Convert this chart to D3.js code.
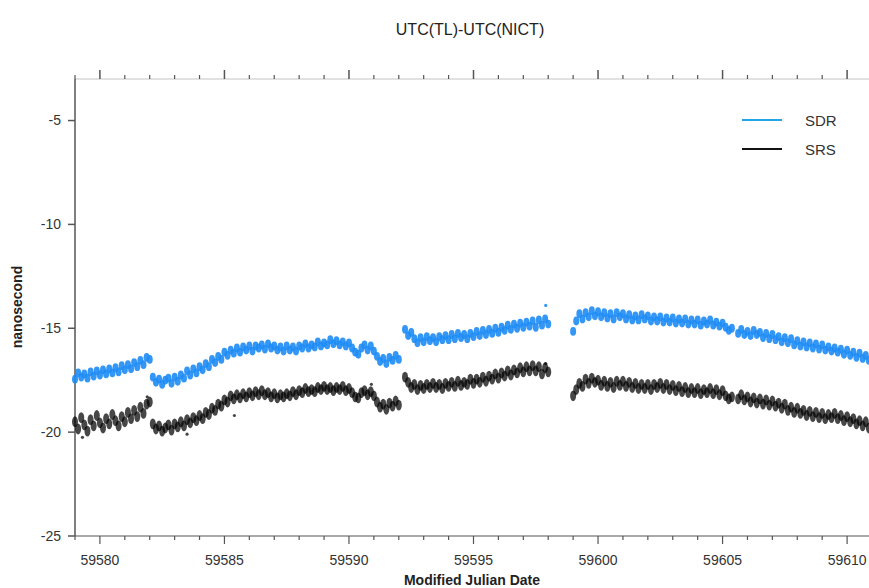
<!DOCTYPE html>
<html>
<head>
<meta charset="utf-8">
<script src="https://cdn.jsdelivr.net/npm/d3@7"></script>
<style>
  body { margin: 0; background: #fff; }
  svg { font-family: "Liberation Sans", Arial, sans-serif; }
</style>
</head>
<body>
<div id="chart"></div>
<script>
// sampling: every segment starts at segStart and runs every 0.125 day
const segStart = [59579.0, 59582.125, 59591.125, 59592.25, 59599.0, 59605.625];
const step = 0.125;

const sdrSeg = [
  [-17.45,-17.15,-17.35,-17.20,-17.40,-17.10,-17.30,-17.05,-17.25,-17.00,-17.20,-16.95,-17.15,-16.90,-17.10,-16.80,-17.00,-16.75,-16.95,-16.65,-16.85,-16.55,-16.75,-16.40,-16.50],
  [-17.35,-17.60,-17.45,-17.70,-17.50,-17.40,-17.65,-17.35,-17.55,-17.25,-17.40,-17.05,-17.25,-16.95,-17.15,-16.85,-17.00,-16.70,-16.85,-16.50,-16.65,-16.35,-16.50,-16.15,-16.30,-16.05,-16.20,-15.95,-16.15,-15.90,-16.05,-15.85,-16.10,-15.85,-15.95,-15.80,-16.00,-15.75,-15.95,-15.85,-16.05,-15.90,-16.10,-15.85,-16.05,-15.90,-16.10,-15.85,-15.95,-15.75,-15.95,-15.80,-15.90,-15.65,-15.85,-15.70,-15.80,-15.55,-15.75,-15.60,-15.80,-15.65,-15.85,-15.70,-15.95,-16.15,-16.25,-15.95,-15.80,-16.05,-15.85,-16.10],
  [-16.35,-16.60,-16.45,-16.70,-16.40,-16.55,-16.30,-16.50],
  [-15.05,-15.35,-15.20,-15.50,-15.70,-15.45,-15.65,-15.40,-15.60,-15.45,-15.65,-15.40,-15.55,-15.35,-15.55,-15.30,-15.50,-15.25,-15.45,-15.30,-15.50,-15.25,-15.40,-15.15,-15.35,-15.10,-15.30,-15.05,-15.25,-15.00,-15.20,-14.95,-15.10,-14.85,-15.05,-14.80,-15.00,-14.75,-14.95,-14.70,-14.90,-14.65,-14.95,-14.60,-14.85,-14.55,-14.80],
  [-15.15,-14.65,-14.30,-14.55,-14.25,-14.45,-14.15,-14.40,-14.20,-14.45,-14.25,-14.50,-14.30,-14.55,-14.25,-14.45,-14.30,-14.55,-14.35,-14.60,-14.40,-14.60,-14.35,-14.55,-14.40,-14.65,-14.45,-14.65,-14.45,-14.70,-14.50,-14.70,-14.50,-14.75,-14.55,-14.75,-14.55,-14.80,-14.60,-14.80,-14.60,-14.85,-14.65,-14.80,-14.60,-14.85,-14.70,-14.90,-14.75,-14.95,-15.10,-15.00],
  [-15.25,-15.05,-15.30,-15.15,-15.35,-15.10,-15.30,-15.20,-15.45,-15.25,-15.50,-15.30,-15.55,-15.40,-15.65,-15.45,-15.70,-15.50,-15.80,-15.60,-15.85,-15.65,-15.90,-15.70,-15.95,-15.75,-16.00,-15.80,-16.05,-15.90,-16.10,-15.95,-16.15,-16.00,-16.25,-16.05,-16.30,-16.15,-16.40,-16.20,-16.45,-16.30,-16.55,-16.40]
];

const srsSeg = [
  [-19.50,-19.85,-19.30,-19.65,-19.95,-19.40,-19.70,-19.20,-19.55,-19.80,-19.35,-19.60,-19.15,-19.45,-19.70,-19.25,-19.50,-19.05,-19.35,-18.95,-19.25,-18.80,-19.10,-18.65,-18.55],
  [-19.60,-19.85,-19.70,-19.95,-19.80,-19.65,-19.90,-19.60,-19.75,-19.50,-19.70,-19.40,-19.55,-19.30,-19.45,-19.20,-19.35,-19.05,-19.15,-18.85,-18.95,-18.65,-18.75,-18.45,-18.55,-18.25,-18.40,-18.20,-18.35,-18.15,-18.30,-18.10,-18.25,-18.05,-18.20,-18.00,-18.20,-18.10,-18.30,-18.15,-18.35,-18.20,-18.30,-18.15,-18.25,-18.05,-18.20,-18.00,-18.10,-17.90,-18.05,-17.95,-18.05,-17.85,-17.95,-17.80,-17.95,-17.85,-18.00,-17.85,-17.95,-17.80,-18.00,-17.90,-18.10,-18.30,-18.35,-18.10,-18.00,-18.20,-18.05,-18.25],
  [-18.55,-18.80,-18.65,-18.90,-18.60,-18.75,-18.50,-18.70],
  [-17.35,-17.60,-17.85,-17.70,-17.95,-17.75,-17.90,-17.70,-17.85,-17.65,-17.85,-17.70,-17.90,-17.65,-17.80,-17.60,-17.80,-17.55,-17.75,-17.60,-17.70,-17.45,-17.65,-17.45,-17.60,-17.35,-17.55,-17.30,-17.45,-17.20,-17.40,-17.15,-17.30,-17.05,-17.25,-17.00,-17.15,-16.90,-17.10,-16.85,-17.05,-16.80,-17.05,-16.85,-17.20,-16.90,-17.10],
  [-18.25,-17.95,-17.65,-17.80,-17.45,-17.65,-17.40,-17.60,-17.50,-17.75,-17.55,-17.80,-17.60,-17.85,-17.55,-17.75,-17.55,-17.80,-17.60,-17.85,-17.65,-17.90,-17.70,-17.90,-17.70,-17.95,-17.70,-17.85,-17.65,-17.90,-17.70,-17.95,-17.75,-18.00,-17.80,-18.05,-17.85,-18.10,-17.90,-18.10,-17.90,-18.15,-17.95,-18.10,-17.90,-18.15,-17.95,-18.20,-18.00,-18.25,-18.40,-18.30],
  [-18.40,-18.20,-18.45,-18.30,-18.55,-18.35,-18.60,-18.40,-18.65,-18.45,-18.70,-18.50,-18.75,-18.60,-18.85,-18.65,-18.95,-18.80,-19.05,-18.85,-19.10,-18.95,-19.20,-19.00,-19.25,-19.05,-19.30,-19.10,-19.35,-19.15,-19.30,-19.10,-19.35,-19.20,-19.45,-19.25,-19.50,-19.35,-19.60,-19.45,-19.70,-19.50,-19.80,-19.60]
];

// stray points
const sdrStray = [[59597.9, -13.9]];
const srsStray = [[59579.3, -20.25], [59581.9, -18.3], [59583.5, -20.1], [59585.4, -19.2], [59590.9, -17.7], [59597.9, -16.7]];

const yTicks = [-5, -10, -15, -20, -25];
const xTicks = [59580, 59585, 59590, 59595, 59600, 59605, 59610];

const seriesNames = ["SDR", "SRS"];
const seriesColors = ["#1e8cf5", "#000000"];

function toPoints(segs, stray) {
  var pts = [];
  segStart.forEach((s, k) => {
    segs[k].forEach((v, i) => pts.push({ mjd: s + i * step, v: v }));
  });
  stray.forEach(d => pts.push({ mjd: d[0], v: d[1], stray: true }));
  return pts;
}

const width = 869, height = 588;
const plotLeft = 75, plotTop = 79, plotBottom = 536, plotRight = 872;

var svg = d3.select("#chart").append("svg")
  .attr("width", width)
  .attr("height", height);

var x = d3.scaleLinear().domain([59579, 59611]).range([plotLeft, plotRight]);
var y = d3.scaleLinear().domain([-25, -3]).range([plotBottom, plotTop]);

// title
svg.append("text")
  .attr("x", 470).attr("y", 35)
  .attr("text-anchor", "middle")
  .style("font-size", "16px")
  .style("fill", "#222")
  .text("UTC(TL)-UTC(NICT)");

// top axis (light line, ticks up)
var topAxis = svg.append("g").attr("transform", `translate(0,${plotTop})`);
topAxis.append("line").attr("x1", plotLeft).attr("x2", width).attr("stroke", "#c4c4c4");
topAxis.selectAll(".t")
  .data(d3.range(59579, 59612))
  .enter().append("line")
  .attr("x1", d => x(d)).attr("x2", d => x(d))
  .attr("y1", 0).attr("y2", d => d % 5 === 0 ? -9 : -4)
  .attr("stroke", "#555").attr("stroke-width", d => d % 5 === 0 ? 1.5 : 1.2);

// bottom axis
var xAxis = svg.append("g").attr("transform", `translate(0,${plotBottom})`);
xAxis.append("line").attr("x1", plotLeft).attr("x2", width).attr("stroke", "#555").attr("stroke-width", 1.2);
xAxis.selectAll(".t")
  .data(d3.range(59579, 59612))
  .enter().append("line")
  .attr("x1", d => x(d)).attr("x2", d => x(d))
  .attr("y1", 0).attr("y2", d => d % 5 === 0 ? 8 : 4)
  .attr("stroke", "#555").attr("stroke-width", 1.2);
xAxis.selectAll("text")
  .data(xTicks)
  .enter().append("text")
  .attr("x", d => x(d)).attr("y", 29)
  .attr("text-anchor", "middle")
  .style("font-size", "14px")
  .style("fill", "#333")
  .text(d => d);

// left axis
var yAxis = svg.append("g").attr("transform", `translate(${plotLeft},0)`);
yAxis.append("line").attr("y1", plotTop).attr("y2", plotBottom).attr("stroke", "#555").attr("stroke-width", 1.5);
yAxis.selectAll(".t")
  .data(yTicks)
  .enter().append("line")
  .attr("x1", -7).attr("x2", 0)
  .attr("y1", d => y(d)).attr("y2", d => y(d))
  .attr("stroke", "#555").attr("stroke-width", 1.5);
yAxis.selectAll("text")
  .data(yTicks)
  .enter().append("text")
  .attr("x", -14).attr("y", d => y(d))
  .attr("dy", "0.35em")
  .attr("text-anchor", "end")
  .style("font-size", "14px")
  .style("fill", "#333")
  .text(d => d);

// axis labels
svg.append("text")
  .attr("x", 472).attr("y", 585)
  .attr("text-anchor", "middle")
  .style("font-size", "14px")
  .style("font-weight", "bold")
  .style("fill", "#222")
  .text("Modified Julian Date");

svg.append("text")
  .attr("transform", "translate(22,307) rotate(-90)")
  .attr("text-anchor", "middle")
  .style("font-size", "14px")
  .style("font-weight", "bold")
  .style("fill", "#222")
  .text("nanosecond");

// data points, drawn as small upright blobs so the dense scatter reads as a band
var plot = svg.append("g");
[[sdrSeg, sdrStray], [srsSeg, srsStray]].forEach((s, k) => {
  plot.append("g").selectAll("ellipse")
    .data(toPoints(s[0], s[1]))
    .enter().append("ellipse")
    .attr("cx", d => x(d.mjd))
    .attr("cy", d => y(d.v))
    .attr("rx", d => d.stray ? 1.6 : 3.0)
    .attr("ry", d => d.stray ? 1.6 : (k === 0 ? 4.4 : 5.4))
    .attr("fill", seriesColors[k])
    .attr("fill-opacity", k === 0 ? 0.9 : 0.72);
});

// legend
var legend = svg.append("g");
seriesNames.forEach((name, i) => {
  var ly = 120 + i * 29;
  legend.append("line")
    .attr("x1", 742).attr("x2", 782)
    .attr("y1", ly).attr("y2", ly)
    .attr("stroke", i === 0 ? "#23a6e6" : "#111")
    .attr("stroke-width", 2.2);
  legend.append("text")
    .attr("x", 805).attr("y", ly)
    .attr("dy", "0.38em")
    .style("font-size", "15px")
    .style("fill", "#333")
    .text(name);
});
</script>
</body>
</html>
